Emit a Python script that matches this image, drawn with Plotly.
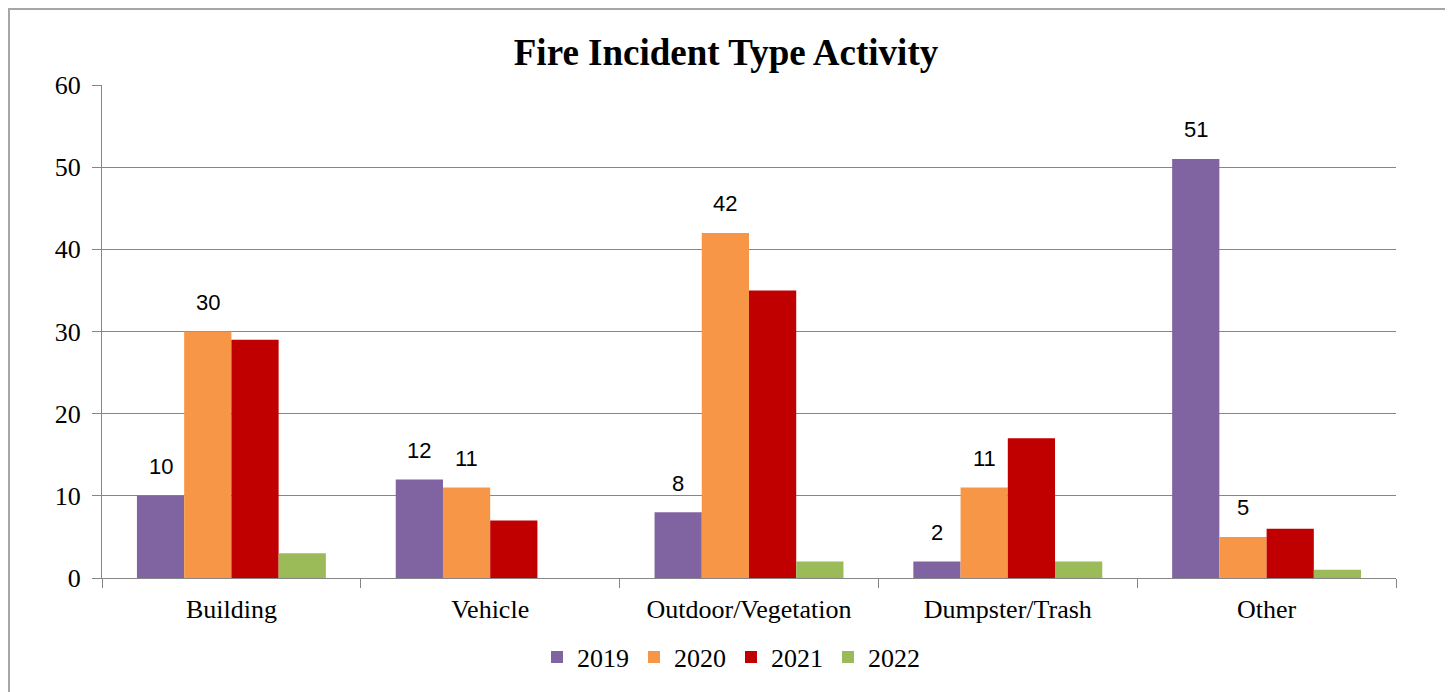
import plotly.graph_objects as go

categories = ["Building", "Vehicle", "Outdoor/Vegetation", "Dumpster/Trash", "Other"]
years = ["2019", "2020", "2021", "2022"]
v2019 = [10, 12, 8, 2, 51]
v2020 = [30, 11, 42, 11, 5]
v2021 = [29, 7, 35, 17, 6]
v2022 = [3, 0, 2, 2, 1]
series = [v2019, v2020, v2021, v2022]
labeled = [True, True, False, False]
colors = ["#8064A2", "#F79646", "#C00000", "#9BBB59"]

# page has an 8px body margin; figure sized to fit inside the window
OFF = 8
W, H = 1445, 684
ml, mr, mt, mb = 94, 57, 77, 114
plot_w = W - ml - mr
plot_h = H - mt - mb
bargap = 0.27
cat_w = plot_w / len(categories)
bar_w = cat_w * (1 - bargap) / len(years)

fig = go.Figure()
for yr, vals, col in zip(years, series, colors):
    fig.add_trace(go.Bar(name=yr, x=categories, y=vals,
                         marker=dict(color=col, line=dict(width=0))))

annotations = []
for i, (vals, lab) in enumerate(zip(series, labeled)):
    if not lab:
        continue
    offset = (i - (len(years) - 1) / 2) * bar_w
    for c, v in zip(categories, vals):
        annotations.append(dict(x=c, y=v, xref="x", yref="y", text=str(v), showarrow=False,
                                xshift=offset, yshift=29, yanchor="middle",
                                font=dict(family="Liberation Sans, Arial", size=22, color="#000")))

fig.update_layout(
    width=W, height=H,
    margin=dict(l=ml, r=mr, t=mt, b=mb),
    paper_bgcolor="white", plot_bgcolor="white",
    barmode="group", bargap=bargap, bargroupgap=0,
    title=dict(text="<b>Fire Incident Type Activity</b>", x=(726 - OFF) / W, xanchor="center",
               y=1 - (52 - OFF) / H, yanchor="middle", xref="container", yref="container",
               font=dict(family="Liberation Serif, Times New Roman", size=37, color="#000")),
    font=dict(family="Liberation Serif, Times New Roman", size=26, color="#000"),
    legend=dict(orientation="h", x=(731 - OFF - ml) / plot_w, xanchor="center",
                y=-(657 - (H + OFF - mb)) / plot_h, yanchor="middle",
                font=dict(size=26), traceorder="normal"),
    annotations=annotations,
    shapes=[dict(type="rect", xref="paper", yref="paper",
                 x0=(1 - ml) / plot_w, x1=(1447 - OFF - ml) / plot_w,
                 y0=-(H + 10 - (H - mb)) / plot_h, y1=((H - mb) - 1) / plot_h,
                 line=dict(color="#A6A6A6", width=2), fillcolor="rgba(0,0,0,0)", layer="below")],
)

fig.update_xaxes(type="category", showline=True, linecolor="#868686", linewidth=1,
                 ticks="outside", tickson="boundaries", ticklen=9, tickcolor="#868686",
                 showgrid=False, tickfont=dict(size=26), ticklabelstandoff=8)
fig.update_yaxes(range=[0, 60], dtick=10, showline=True, linecolor="#868686", linewidth=1,
                 ticks="outside", ticklen=9, tickcolor="#868686", showgrid=True,
                 gridcolor="#868686", gridwidth=1, zeroline=False, tickfont=dict(size=26),
                 ticklabelstandoff=6)

fig.write_html("out.html")
